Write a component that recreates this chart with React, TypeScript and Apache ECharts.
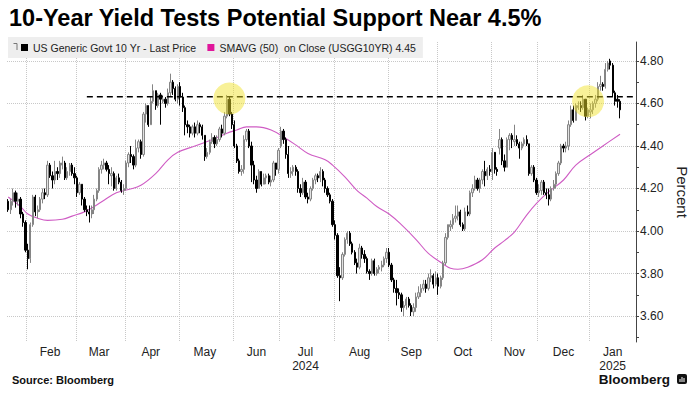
import React, { useEffect, useRef } from 'react';
import * as echarts from 'echarts';

const FONT = '"Liberation Sans", Arial, sans-serif';

const TITLE = '10-Year Yield Tests Potential Support Near 4.5%';
const SERIES_PRICE = 'US Generic Govt 10 Yr - Last Price';
const SERIES_SMA = 'SMAVG (50)  on Close (USGG10YR) 4.45';
const SOURCE = 'Source: Bloomberg';

// trading calendar
const FIRST_DAY = '2024-01-22';
const PAD_DAYS = 6;
const HOLIDAYS = [
  '2024-02-19', '2024-03-29', '2024-05-27', '2024-06-19', '2024-07-04', '2024-09-02',
  '2024-10-14', '2024-11-11', '2024-11-28', '2024-12-25', '2025-01-01', '2025-01-20',
];
const MONTH_LABELS: [string, string][] = [
  ['2024-02', 'Feb'], ['2024-03', 'Mar'], ['2024-04', 'Apr'], ['2024-05', 'May'],
  ['2024-06', 'Jun'], ['2024-07', 'Jul\n2024'], ['2024-08', 'Aug'], ['2024-09', 'Sep'],
  ['2024-10', 'Oct'], ['2024-11', 'Nov'], ['2024-12', 'Dec'], ['2025-01', 'Jan\n2025'],
];

// daily bars: [open, close, low, high]
const jan24 = [
  [4.14, 4.10, 4.09, 4.15], [4.10, 4.14, 4.08, 4.15], [4.14, 4.18, 4.12, 4.20], [4.18, 4.14, 4.11, 4.19],
  [4.14, 4.15, 4.12, 4.18], [4.15, 4.08, 4.06, 4.16], [4.08, 4.04, 4.02, 4.09], [4.04, 3.91, 3.90, 4.05],
];
const feb24 = [
  [3.91, 3.87, 3.82, 3.94], [3.87, 4.03, 3.85, 4.04], [4.03, 4.16, 4.02, 4.17], [4.16, 4.09, 4.07, 4.17],
  [4.09, 4.10, 4.06, 4.12], [4.10, 4.15, 4.09, 4.16], [4.15, 4.18, 4.13, 4.20], [4.18, 4.17, 4.15, 4.20],
  [4.17, 4.31, 4.16, 4.33], [4.31, 4.26, 4.25, 4.32], [4.26, 4.24, 4.20, 4.28], [4.24, 4.28, 4.22, 4.33],
  [4.28, 4.27, 4.24, 4.30], [4.27, 4.32, 4.25, 4.33], [4.31, 4.32, 4.29, 4.35], [4.32, 4.25, 4.24, 4.33],
  [4.25, 4.28, 4.24, 4.30], [4.28, 4.31, 4.26, 4.32], [4.31, 4.27, 4.26, 4.32], [4.27, 4.25, 4.22, 4.30],
];
const mar24 = [
  [4.25, 4.18, 4.16, 4.26], [4.18, 4.22, 4.17, 4.23], [4.22, 4.15, 4.12, 4.22], [4.15, 4.10, 4.09, 4.16],
  [4.10, 4.09, 4.07, 4.12], [4.09, 4.08, 4.04, 4.12], [4.08, 4.10, 4.06, 4.12], [4.10, 4.15, 4.08, 4.17],
  [4.15, 4.19, 4.14, 4.20], [4.19, 4.29, 4.18, 4.30], [4.29, 4.31, 4.27, 4.33], [4.31, 4.32, 4.29, 4.34],
  [4.32, 4.29, 4.28, 4.33], [4.29, 4.27, 4.22, 4.31], [4.26, 4.27, 4.21, 4.30], [4.27, 4.20, 4.19, 4.28],
  [4.20, 4.25, 4.19, 4.26], [4.25, 4.23, 4.22, 4.27], [4.23, 4.19, 4.18, 4.24], [4.19, 4.20, 4.17, 4.22],
];
const apr24 = [
  [4.20, 4.32, 4.19, 4.33], [4.32, 4.36, 4.30, 4.37], [4.36, 4.35, 4.32, 4.40], [4.35, 4.31, 4.29, 4.36],
  [4.31, 4.39, 4.30, 4.43], [4.39, 4.42, 4.37, 4.43], [4.42, 4.36, 4.34, 4.43], [4.36, 4.55, 4.35, 4.56],
  [4.55, 4.59, 4.51, 4.60], [4.59, 4.50, 4.49, 4.59], [4.50, 4.61, 4.50, 4.63], [4.61, 4.66, 4.60, 4.69],
  [4.66, 4.59, 4.57, 4.66], [4.59, 4.64, 4.58, 4.65], [4.64, 4.62, 4.50, 4.65], [4.61, 4.62, 4.60, 4.64],
  [4.62, 4.60, 4.58, 4.63], [4.60, 4.65, 4.59, 4.67], [4.65, 4.70, 4.63, 4.74], [4.70, 4.67, 4.64, 4.71],
  [4.67, 4.62, 4.61, 4.68], [4.62, 4.68, 4.60, 4.69],
];
const may24 = [
  [4.68, 4.63, 4.59, 4.70], [4.63, 4.58, 4.56, 4.65], [4.58, 4.50, 4.45, 4.59], [4.50, 4.49, 4.46, 4.52],
  [4.49, 4.46, 4.44, 4.50], [4.46, 4.49, 4.45, 4.50], [4.49, 4.46, 4.44, 4.51], [4.46, 4.50, 4.45, 4.52],
  [4.50, 4.49, 4.46, 4.51], [4.49, 4.45, 4.43, 4.50], [4.45, 4.35, 4.33, 4.45], [4.35, 4.37, 4.34, 4.39],
  [4.37, 4.42, 4.36, 4.43], [4.42, 4.44, 4.41, 4.46], [4.44, 4.41, 4.39, 4.45], [4.41, 4.43, 4.40, 4.45],
  [4.43, 4.48, 4.42, 4.49], [4.48, 4.46, 4.44, 4.50], [4.46, 4.54, 4.45, 4.56], [4.54, 4.62, 4.53, 4.64],
  [4.62, 4.55, 4.54, 4.63], [4.55, 4.50, 4.48, 4.56],
];
const jun24 = [
  [4.50, 4.40, 4.39, 4.52], [4.40, 4.33, 4.32, 4.41], [4.33, 4.28, 4.27, 4.34], [4.28, 4.29, 4.26, 4.31],
  [4.29, 4.43, 4.27, 4.45], [4.43, 4.47, 4.42, 4.48], [4.47, 4.40, 4.39, 4.48], [4.40, 4.31, 4.23, 4.42],
  [4.31, 4.24, 4.22, 4.33], [4.24, 4.20, 4.18, 4.26], [4.20, 4.28, 4.20, 4.29], [4.28, 4.22, 4.21, 4.28],
  [4.22, 4.25, 4.22, 4.27], [4.25, 4.26, 4.22, 4.27], [4.26, 4.23, 4.22, 4.27], [4.23, 4.24, 4.21, 4.26],
  [4.24, 4.32, 4.23, 4.33], [4.32, 4.29, 4.26, 4.32], [4.29, 4.38, 4.27, 4.39],
];
const jul24 = [
  [4.40, 4.47, 4.39, 4.49], [4.47, 4.43, 4.41, 4.48], [4.43, 4.36, 4.34, 4.44], [4.36, 4.27, 4.25, 4.40],
  [4.27, 4.28, 4.25, 4.30], [4.28, 4.30, 4.26, 4.31], [4.30, 4.28, 4.26, 4.31], [4.28, 4.20, 4.18, 4.29],
  [4.20, 4.18, 4.16, 4.22], [4.18, 4.23, 4.17, 4.25], [4.23, 4.16, 4.15, 4.24], [4.16, 4.15, 4.13, 4.18],
  [4.15, 4.20, 4.14, 4.21], [4.20, 4.24, 4.19, 4.25], [4.24, 4.26, 4.22, 4.27], [4.26, 4.25, 4.23, 4.27],
  [4.25, 4.28, 4.23, 4.30], [4.28, 4.24, 4.21, 4.29], [4.24, 4.20, 4.18, 4.25], [4.20, 4.17, 4.16, 4.21],
  [4.17, 4.14, 4.13, 4.18], [4.14, 4.03, 4.02, 4.15],
];
const aug24 = [
  [4.03, 3.98, 3.96, 4.05], [3.98, 3.79, 3.78, 3.99], [3.79, 3.78, 3.67, 3.83], [3.78, 3.89, 3.77, 3.90],
  [3.89, 3.96, 3.88, 3.97], [3.96, 3.99, 3.94, 4.00], [3.99, 3.94, 3.93, 4.00], [3.94, 3.90, 3.89, 3.95],
  [3.90, 3.85, 3.84, 3.91], [3.85, 3.83, 3.80, 3.87], [3.83, 3.92, 3.82, 3.94], [3.92, 3.89, 3.87, 3.93],
  [3.89, 3.87, 3.85, 3.91], [3.87, 3.81, 3.80, 3.88], [3.81, 3.80, 3.77, 3.82], [3.80, 3.86, 3.79, 3.87],
  [3.86, 3.80, 3.79, 3.87], [3.80, 3.82, 3.79, 3.83], [3.82, 3.83, 3.80, 3.84], [3.83, 3.84, 3.81, 3.86],
  [3.84, 3.87, 3.83, 3.88], [3.87, 3.90, 3.85, 3.92],
];
const sep24 = [
  [3.90, 3.84, 3.83, 3.92], [3.84, 3.77, 3.76, 3.85], [3.77, 3.73, 3.71, 3.78], [3.73, 3.71, 3.65, 3.77],
  [3.71, 3.70, 3.68, 3.73], [3.70, 3.64, 3.62, 3.71], [3.64, 3.65, 3.60, 3.67], [3.65, 3.68, 3.63, 3.69],
  [3.68, 3.65, 3.64, 3.69], [3.65, 3.62, 3.60, 3.66], [3.62, 3.64, 3.60, 3.66], [3.64, 3.69, 3.62, 3.71],
  [3.69, 3.71, 3.68, 3.74], [3.71, 3.73, 3.69, 3.75], [3.73, 3.75, 3.72, 3.77], [3.75, 3.73, 3.71, 3.77],
  [3.73, 3.78, 3.72, 3.80], [3.78, 3.79, 3.76, 3.82], [3.79, 3.75, 3.73, 3.80], [3.75, 3.78, 3.74, 3.81],
];
const oct24 = [
  [3.78, 3.74, 3.70, 3.80], [3.74, 3.78, 3.73, 3.79], [3.78, 3.85, 3.77, 3.86], [3.85, 3.97, 3.84, 3.99],
  [3.97, 4.03, 3.96, 4.03], [4.02, 4.03, 4.00, 4.05], [4.03, 4.06, 4.01, 4.08], [4.06, 4.07, 4.04, 4.12],
  [4.07, 4.09, 4.05, 4.12], [4.09, 4.03, 4.02, 4.10], [4.03, 4.01, 4.00, 4.04], [4.01, 4.09, 4.00, 4.11],
  [4.09, 4.08, 4.07, 4.12], [4.08, 4.18, 4.07, 4.19], [4.18, 4.20, 4.16, 4.22], [4.20, 4.24, 4.19, 4.26],
  [4.24, 4.20, 4.19, 4.25], [4.20, 4.24, 4.18, 4.25], [4.24, 4.28, 4.22, 4.29], [4.28, 4.26, 4.21, 4.33],
  [4.26, 4.29, 4.24, 4.30], [4.29, 4.28, 4.26, 4.31],
];
const nov24 = [
  [4.28, 4.37, 4.24, 4.39], [4.37, 4.29, 4.27, 4.34], [4.29, 4.28, 4.26, 4.30], [4.39, 4.43, 4.36, 4.48],
  [4.43, 4.33, 4.31, 4.44], [4.33, 4.30, 4.28, 4.36], [4.30, 4.43, 4.30, 4.44], [4.43, 4.45, 4.38, 4.46],
  [4.45, 4.43, 4.39, 4.46], [4.42, 4.43, 4.40, 4.50], [4.43, 4.41, 4.40, 4.45], [4.41, 4.39, 4.34, 4.42],
  [4.39, 4.41, 4.38, 4.42], [4.41, 4.43, 4.40, 4.44], [4.43, 4.41, 4.40, 4.45], [4.41, 4.27, 4.26, 4.41],
  [4.27, 4.30, 4.26, 4.31], [4.30, 4.24, 4.23, 4.31], [4.24, 4.18, 4.17, 4.25],
];
const dec24 = [
  [4.18, 4.19, 4.16, 4.22], [4.19, 4.23, 4.17, 4.24], [4.23, 4.18, 4.17, 4.24], [4.18, 4.17, 4.15, 4.20],
  [4.17, 4.15, 4.12, 4.20], [4.15, 4.20, 4.14, 4.21], [4.20, 4.22, 4.19, 4.24], [4.22, 4.27, 4.20, 4.28],
  [4.27, 4.32, 4.26, 4.33], [4.32, 4.40, 4.31, 4.41], [4.40, 4.39, 4.37, 4.41], [4.39, 4.40, 4.37, 4.42],
  [4.40, 4.50, 4.38, 4.52], [4.50, 4.57, 4.49, 4.59], [4.57, 4.52, 4.51, 4.59], [4.52, 4.59, 4.52, 4.60],
  [4.58, 4.59, 4.57, 4.61], [4.59, 4.58, 4.56, 4.61], [4.58, 4.62, 4.57, 4.64], [4.62, 4.54, 4.52, 4.62],
  [4.54, 4.57, 4.53, 4.58],
];
const jan25 = [
  [4.56, 4.57, 4.53, 4.60], [4.57, 4.60, 4.55, 4.61], [4.60, 4.62, 4.58, 4.64], [4.62, 4.68, 4.61, 4.70],
  [4.68, 4.69, 4.66, 4.73], [4.69, 4.68, 4.66, 4.70], [4.68, 4.76, 4.67, 4.79], [4.76, 4.79, 4.75, 4.80],
  [4.80, 4.78, 4.76, 4.81], [4.78, 4.65, 4.63, 4.79], [4.65, 4.61, 4.59, 4.66], [4.62, 4.61, 4.58, 4.64],
  [4.61, 4.57, 4.53, 4.62],
];
const ohlc = [
  ...jan24, ...feb24, ...mar24, ...apr24, ...may24, ...jun24,
  ...jul24, ...aug24, ...sep24, ...oct24, ...nov24, ...dec24, ...jan25,
];

// 50-day moving average: [trading-day index, value]
const smaPoints = [
  [0, 4.16], [5, 4.115], [8, 4.08], [12, 4.06], [16, 4.05], [22, 4.055], [26, 4.07], [31, 4.09],
  [35, 4.115], [39, 4.145], [44, 4.18], [49, 4.195], [54, 4.215], [60, 4.27], [65, 4.335], [69, 4.37],
  [76, 4.40], [83, 4.43], [89, 4.46], [93, 4.475], [97, 4.49], [101, 4.49], [107, 4.475], [113, 4.435],
  [117, 4.405], [122, 4.365], [129, 4.335], [132, 4.31], [137, 4.255], [142, 4.19], [146, 4.155],
  [150, 4.115], [155, 4.08], [160, 4.03], [166, 3.96], [171, 3.895], [177, 3.845], [180, 3.825],
  [183, 3.82], [187, 3.83], [193, 3.865], [198, 3.92], [202, 3.955], [206, 3.995], [211, 4.075],
  [215, 4.13], [220, 4.185], [226, 4.24], [231, 4.31], [237, 4.36], [242, 4.40], [249, 4.455],
];

const supportLevel = 4.632;
const supportStartIdx = 32;
const highlightPoints = [[90, 4.623], [236, 4.61]];

const Y_MIN = 3.478;
const Y_MAX = 4.889;
const tickValues = [3.5, 3.6, 3.7, 3.8, 3.9, 4.0, 4.1, 4.2, 4.3, 4.4, 4.5, 4.6, 4.7, 4.8];
const labelValues = [3.6, 3.8, 4.0, 4.2, 4.4, 4.6, 4.8];

function buildDays(first: string, count: number, holidays: string[]): string[] {
  const out: string[] = [];
  const d = new Date(first + 'T00:00:00Z');
  while (out.length < count) {
    const dow = d.getUTCDay();
    const iso = d.toISOString().slice(0, 10);
    if (dow !== 0 && dow !== 6 && !holidays.includes(iso)) out.push(iso);
    d.setUTCDate(d.getUTCDate() + 1);
  }
  return out;
}

function buildOption() {
  const days = buildDays(FIRST_DAY, ohlc.length + PAD_DAYS, HOLIDAYS);
  const monthFirst: Record<string, number> = {};
  const monthLast: Record<string, number> = {};
  days.forEach((d, i) => {
    const ym = d.slice(0, 7);
    if (monthFirst[ym] === undefined) monthFirst[ym] = i;
    monthLast[ym] = i;
  });
  const splitIdx = new Set<number>();
  Object.values(monthFirst).forEach((i) => { if (i > 0) splitIdx.add(i); });
  const labelAt = new Map<number, string>();
  MONTH_LABELS.forEach(([ym, text]) => {
    if (monthFirst[ym] !== undefined) {
      labelAt.set(Math.floor((monthFirst[ym] + monthLast[ym]) / 2), text);
    }
  });

  return {
    animation: false,
    backgroundColor: '#ffffff',
    textStyle: { fontFamily: FONT },
    title: {
      text: TITLE,
      left: 9,
      top: 6,
      padding: 0,
      textStyle: { fontFamily: FONT, fontSize: 23.5, fontWeight: 'bold', color: '#000' },
    },
    legend: {
      left: 8,
      top: 37,
      backgroundColor: '#eeeeee',
      padding: [5, 7, 5, 13],
      itemWidth: 7,
      itemHeight: 7,
      itemGap: 11,
      selectedMode: false,
      textStyle: { fontFamily: FONT, fontSize: 10.5, color: '#222' },
      data: [
        { name: SERIES_PRICE, icon: 'rect', itemStyle: { color: '#000', borderWidth: 0 } },
        { name: SERIES_SMA, icon: 'rect', itemStyle: { color: '#e0169b' }, lineStyle: { width: 0 } },
      ],
    },
    grid: { left: 7, right: 57, top: 42, bottom: 53, containLabel: false },
    xAxis: {
      type: 'category',
      data: days,
      boundaryGap: true,
      axisLine: { show: false },
      axisTick: { show: false },
      axisLabel: {
        interval: (i: number) => labelAt.has(i),
        formatter: (_v: string, i: number) => labelAt.get(i) || '',
        fontFamily: FONT,
        fontSize: 12,
        color: '#222',
        margin: 3,
        lineHeight: 14,
        hideOverlap: false,
      },
      splitLine: {
        show: true,
        interval: (i: number) => splitIdx.has(i),
        lineStyle: { color: '#c8c8c8', type: 'dotted', width: 1 },
      },
    },
    yAxis: [
      {
        type: 'value',
        position: 'right',
        min: Y_MIN,
        max: Y_MAX,
        minInterval: 0.1,
        maxInterval: 0.1,
        axisLine: { show: true, lineStyle: { color: '#444', width: 1 } },
        axisTick: { show: true, length: 3, lineStyle: { color: '#444' }, customValues: tickValues },
        axisLabel: {
          customValues: labelValues,
          formatter: (v: number) => {
            const r = Math.round(v * 10);
            return r % 2 === 0 && Math.abs(v * 10 - r) < 1e-6 ? v.toFixed(2) : '';
          },
          fontFamily: FONT,
          fontSize: 12,
          color: '#222',
          margin: 4,
        },
        splitLine: { show: false },
        name: 'Percent',
        nameLocation: 'middle',
        nameRotate: -90,
        nameGap: 39,
        nameTextStyle: { fontFamily: FONT, fontSize: 15, color: '#222' },
      },
      {
        type: 'value',
        position: 'right',
        min: Y_MIN,
        max: Y_MAX,
        minInterval: 0.2,
        maxInterval: 0.2,
        axisLine: { show: false },
        axisTick: { show: false },
        axisLabel: { show: false },
        splitLine: {
          show: true,
          showMinLine: false,
          showMaxLine: false,
          lineStyle: { color: '#c8c8c8', type: 'dotted', width: 1 },
        },
      },
    ],
    series: [
      {
        name: SERIES_SMA,
        type: 'line',
        data: smaPoints,
        smooth: 0.4,
        symbol: 'none',
        z: 2,
        lineStyle: { color: '#cf5cc4', width: 1.1 },
        itemStyle: { color: '#e0169b' },
      },
      {
        name: SERIES_PRICE,
        type: 'candlestick',
        data: ohlc,
        barWidth: 1.8,
        z: 3,
        itemStyle: {
          color: '#e2e2e2',
          borderColor: '#858585',
          color0: '#000000',
          borderColor0: '#000000',
          borderWidth: 1,
        },
      },
      {
        name: 'Support',
        type: 'line',
        data: [[supportStartIdx, supportLevel], [days.length - 1, supportLevel]],
        symbol: 'none',
        z: 4,
        lineStyle: { color: '#000', width: 1.5, type: [6, 4] },
      },
      {
        name: 'Highlight',
        type: 'scatter',
        data: highlightPoints,
        symbol: 'circle',
        symbolSize: 32,
        z: 5,
        itemStyle: { color: 'rgba(240, 225, 40, 0.6)' },
      },
    ],
    graphic: [
      {
        type: 'polyline',
        shape: { points: [[13.5, 43.5], [17, 43.5], [17, 50]] },
        style: { stroke: '#777', lineWidth: 1, fill: 'none' },
        z: 100,
      },
      {
        type: 'text',
        left: 12,
        top: 374,
        style: { text: SOURCE, font: 'bold 11px "Liberation Sans", Arial, sans-serif', fill: '#111' },
      },
      {
        type: 'text',
        right: 28,
        top: 372,
        style: { text: 'Bloomberg', font: 'bold 13.5px "Liberation Sans", Arial, sans-serif', fill: '#111' },
      },
      {
        type: 'group',
        left: 677,
        top: 374,
        children: [
          { type: 'rect', shape: { x: 0, y: 0, width: 10, height: 10, r: 2 }, style: { fill: '#111' } },
          { type: 'rect', shape: { x: 2.5, y: 5, width: 1, height: 3 }, style: { fill: '#fff' } },
          { type: 'rect', shape: { x: 4.5, y: 3, width: 1, height: 5 }, style: { fill: '#fff' } },
          { type: 'rect', shape: { x: 6.5, y: 4, width: 1, height: 4 }, style: { fill: '#fff' } },
        ],
      },
    ],
  };
}

export default function App() {
  const ref = useRef<HTMLDivElement>(null);
  useEffect(() => {
    if (!ref.current) return;
    const chart = echarts.init(ref.current, null, { renderer: 'svg' });
    chart.setOption(buildOption() as any);
    return () => chart.dispose();
  }, []);
  return (
    <div
      ref={ref}
      style={{ position: 'absolute', left: 0, top: 0, width: 698, height: 395, background: '#fff' }}
    />
  );
}
